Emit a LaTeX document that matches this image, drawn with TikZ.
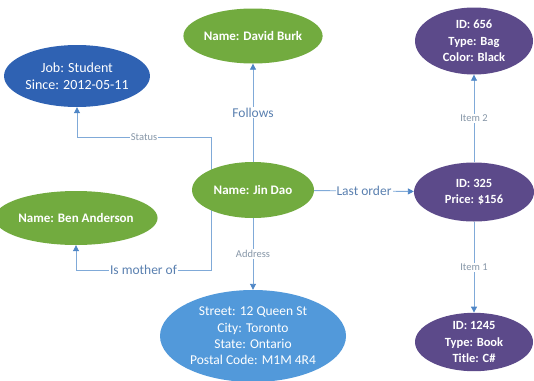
\documentclass[tikz,border=0pt]{standalone}
\usepackage{fontspec}
\setmainfont{Carlito}
\usetikzlibrary{shapes.geometric,arrows.meta,backgrounds}
\definecolor{ngreen}{HTML}{72AB3F}
\definecolor{ndblue}{HTML}{2F62B3}
\definecolor{nlblue}{HTML}{5299DA}
\definecolor{npurple}{HTML}{5C4A8A}
\definecolor{eline}{HTML}{80AAD8}
\definecolor{etip}{HTML}{4F86C6}
\definecolor{lblue}{HTML}{5A80B0}
\definecolor{lgray}{HTML}{8797A8}
\tikzset{
  ent/.style={ellipse, inner sep=0pt, text=white, align=center},
  edge/.style={draw=eline, line width=0.9pt, -{Triangle[length=6pt,width=6pt,color=etip]}},
  biglbl/.style={fill=white, inner sep=1pt, text=lblue, font=\fontsize{13.5}{15}\selectfont},
  smlbl/.style={fill=white, inner sep=1pt, text=lgray, font=\fontsize{10.5}{12}\selectfont},
  greenn/.style={ent, fill=ngreen, font=\fontsize{13}{16}\selectfont\bfseries},
  purplen/.style={ent, fill=npurple, font=\fontsize{12.5}{16.5}\selectfont\bfseries},
}
\begin{document}
\begin{tikzpicture}[x=1pt,y=-1pt]
\useasboundingbox (0,0) rectangle (534,380);
\node[greenn, minimum width=136pt, minimum height=55pt] (david) at (253,36) {Name: David Burk};
\node[ent, fill=ndblue, font=\fontsize{14}{17}\selectfont, minimum width=137pt, minimum height=62pt] (job) at (77,76) {Job: Student\\Since: 2012-05-11};
\node[greenn, minimum width=122pt, minimum height=56pt] (jin) at (253,190) {Name: Jin Dao};
\node[greenn, minimum width=138pt, minimum height=54pt] (ben) at (76,218) {Name: Ben Anderson};
\node[ent, fill=nlblue, font=\fontsize{13.5}{16.3}\selectfont, minimum width=186pt, minimum height=92pt] (addr) at (253,336) {Street: 12 Queen St\\City: Toronto\\State: Ontario\\Postal Code: M1M 4R4};
\node[purplen, minimum width=118pt, minimum height=67pt] (bag) at (474,41) {ID: 656\\Type: Bag\\Color: Black};
\node[purplen, minimum width=120pt, minimum height=59pt] (order) at (474,192) {ID: 325\\Price: \$156};
\node[purplen, minimum width=118pt, minimum height=57pt] (book) at (474,342) {ID: 1245\\Type: Book\\Title: C\#};
\begin{scope}[on background layer]
\draw[edge] (jin) -- (david) node[biglbl, pos=0.5] {Follows};
\draw[edge] ([xshift=-42pt]jin.center) |- ([yshift=-30pt]job.south) node[smlbl, pos=0.75] {Status} -- (job.south);
\draw[edge] ([xshift=-42pt]jin.center) |- ([yshift=-25pt]ben.south) node[biglbl, pos=0.75] {Is mother of} -- (ben.south);
\draw[edge] (jin) -- (addr) node[smlbl, pos=0.5] {Address};
\draw[edge] (jin) -- (order) node[biglbl, pos=0.5] {Last order};
\draw[edge] (order) -- (bag) node[smlbl, pos=0.5] {Item 2};
\draw[edge] (order) -- (book) node[smlbl, pos=0.5] {Item 1};
\end{scope}
\end{tikzpicture}
\end{document}
